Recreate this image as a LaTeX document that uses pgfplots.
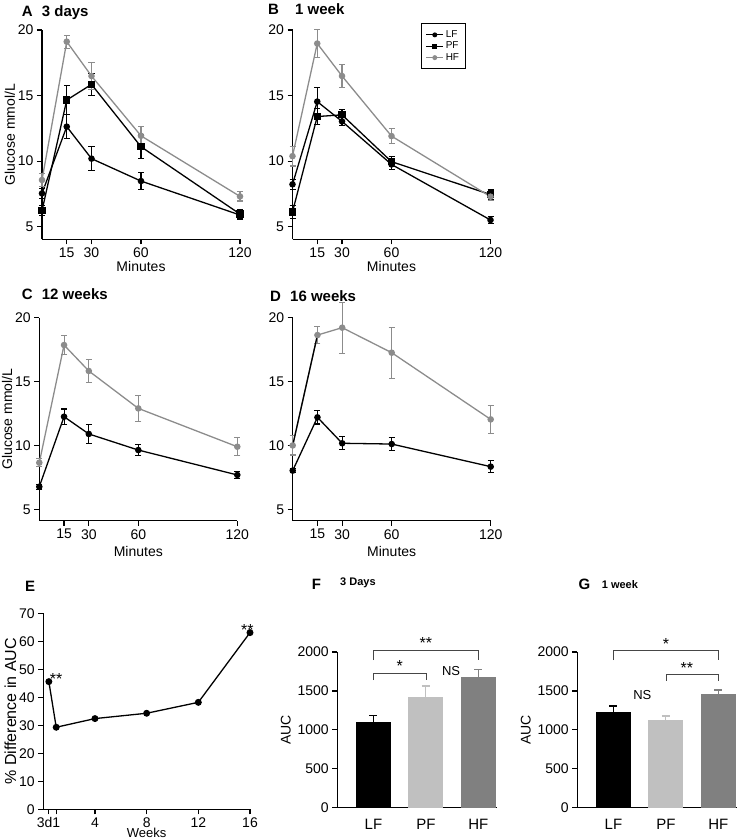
\documentclass[border=0pt]{standalone}
\usepackage{fontspec}
\setmainfont{Liberation Sans}
\usepackage{pgfplots}
\pgfplotsset{compat=1.18}
\definecolor{hfgray}{RGB}{140,140,140}
\definecolor{pfbar}{RGB}{192,192,192}
\definecolor{hfbar}{RGB}{128,128,128}
\definecolor{brk}{RGB}{70,70,70}
\newcommand{\fs}[1]{\fontsize{#1}{#1}\selectfont}

\pgfplotsset{
  base/.style={scale only axis, axis x line*=bottom, axis y line*=left,
    axis line style={-, line width=1.2pt}, tick align=outside, major tick length=5pt,
    tick style={black, line width=1.2pt}, clip=false,
    /pgf/number format/assume math mode=true, /pgf/number format/1000 sep={}},
  glc/.style={base, width=198pt, xmin=0, xmax=120, ymax=20,
    xtick={15,30,60,120}, ytick={5,10,15,20},
    tick label style={font=\fs{14}}, label style={font=\fs{14}}, xlabel=Minutes,
    ylabel shift=-4pt},
  lf/.style={color=black, mark=*, mark size=2.6pt, line width=1.3pt,
    error bars/.cd, y dir=both, y explicit, error bar style={black, line width=1.1pt},
    error mark options={black, rotate=90, mark size=3pt, line width=1.1pt}},
  pf/.style={color=black, mark=square*, mark size=3pt, line width=1.3pt,
    error bars/.cd, y dir=both, y explicit, error bar style={black, line width=1.1pt},
    error mark options={black, rotate=90, mark size=3pt, line width=1.1pt}},
  hf/.style={color=hfgray, mark=*, mark size=2.6pt, line width=1.3pt,
    error bars/.cd, y dir=both, y explicit, error bar style={hfgray, line width=1.1pt},
    error mark options={hfgray, rotate=90, mark size=3pt, line width=1.1pt}},
  auc/.style={base, width=159.4pt, height=155.7pt, xmin=-0.69, xmax=2.35, ymin=0, ymax=2000,
    xtick={0,1,2}, xticklabels={LF,PF,HF}, ytick={0,500,1000,1500,2000},
    xtick style={draw=none}, ylabel=AUC,
    x tick label style={font=\fs{15}, yshift=-3pt}, y tick label style={font=\fs{14}},
    label style={font=\fs{14}}},
  bar/.style={ybar, bar width=35pt, bar shift=0pt, fill=#1, draw=none,
    error bars/.cd, y dir=plus, y explicit, error bar style={#1, line width=1.1pt},
    error mark options={#1, rotate=90, mark size=4pt, line width=1.1pt}},
  brk/.style={brk, line width=1.2pt},
}

\begin{document}
\begin{tikzpicture}
\path[use as bounding box] (0,0) rectangle (740pt,840pt);

% titles
\node[anchor=base west, inner sep=0, font=\bfseries\fs{15}] at (21.7pt,823pt) {A};
\node[anchor=base west, inner sep=0, font=\bfseries\fs{15}] at (41.7pt,823pt) {3 days};
\node[anchor=base west, inner sep=0, font=\bfseries\fs{15}] at (268pt,825pt) {B};
\node[anchor=base west, inner sep=0, font=\bfseries\fs{15}] at (295pt,825pt) {1 week};
\node[anchor=base west, inner sep=0, font=\bfseries\fs{15}] at (21.7pt,540.7pt) {C};
\node[anchor=base west, inner sep=0, font=\bfseries\fs{15}] at (41.7pt,540.7pt) {12 weeks};
\node[anchor=base west, inner sep=0, font=\bfseries\fs{15}] at (270pt,538.3pt) {D};
\node[anchor=base west, inner sep=0, font=\bfseries\fs{15}] at (290pt,538.3pt) {16 weeks};
\node[anchor=base west, inner sep=0, font=\bfseries\fs{15}] at (25pt,248.3pt) {E};
\node[anchor=base west, inner sep=0, font=\bfseries\fs{15}] at (311.7pt,250pt) {F};
\node[anchor=base west, inner sep=0, font=\bfseries\fs{11}] at (340pt,254pt) {3 Days};
\node[anchor=base west, inner sep=0, font=\bfseries\fs{15}] at (578.3pt,250pt) {G};
\node[anchor=base west, inner sep=0, font=\bfseries\fs{11}] at (601.7pt,251pt) {1 week};

% A: 3 days
\begin{axis}[glc, at={(42pt,600.7pt)}, anchor=south west, height=209.3pt, ymin=4.04,
  ylabel={Glucose mmol/L}, xlabel style={yshift=3pt}]
\addplot[lf] coordinates {(0,7.54) +- (0,0.4) (15,12.63) +- (0,0.93) (30,10.19) +- (0,0.93) (60,8.48) +- (0,0.64) (120,5.89) +- (0,0.3)};
\addplot[pf] coordinates {(0,6.22) +- (0,0.4) (15,14.66) +- (0,1.08) (30,15.85) +- (0,0.85) (60,11.1) +- (0,0.9) (120,5.96) +- (0,0.35)};
\addplot[hf] coordinates {(0,8.56) +- (0,0.5) (15,19.11) +- (0,0.5) (30,16.49) +- (0,1.0) (60,11.93) +- (0,0.74) (120,7.31) +- (0,0.35)};
\end{axis}

% B: 1 week
\begin{axis}[glc, at={(292.5pt,600.7pt)}, anchor=south west, height=209.3pt, ymin=4.04,
  xlabel style={yshift=3pt},
  legend style={at={(0.651,1.032)}, anchor=north west, font=\fs{10}, draw=black,
    line width=0.8pt, inner xsep=4pt, inner ysep=5pt, row sep=-1pt, legend cell align=left},
  legend image post style={line width=0.9pt, mark size=2pt}]
\addplot[lf] coordinates {(0,8.23) +- (0,0.4) (15,14.54) +- (0,1.05) (30,13.03) +- (0,0.3) (60,9.75) +- (0,0.4) (120,5.51) +- (0,0.3)};
\addlegendentry{LF}
\addplot[pf] coordinates {(0,6.13) +- (0,0.5) (15,13.4) +- (0,0.6) (30,13.53) +- (0,0.4) (60,9.96) +- (0,0.4) (120,7.45) +- (0,0.35)};
\addlegendentry{PF}
\addplot[hf] coordinates {(0,10.38) +- (0,0.75) (15,18.97) +- (0,1.05) (30,16.49) +- (0,0.9) (60,11.91) +- (0,0.57) (120,7.29) +- (0,0.3)};
\addlegendentry{HF}
\end{axis}

% C: 12 weeks
\begin{axis}[glc, at={(39.3pt,319.3pt)}, anchor=south west, height=203pt, ymin=4.11,
  ylabel={Glucose mmol/L}]
\addplot[lf] coordinates {(0,6.77) +- (0,0.2) (15,12.25) +- (0,0.6) (30,10.9) +- (0,0.73) (60,9.64) +- (0,0.46) (120,7.69) +- (0,0.27)};
\addplot[hf] coordinates {(0,8.65) +- (0,0.3) (15,17.86) +- (0,0.72) (30,15.83) +- (0,0.91) (60,12.9) +- (0,1.0) (120,9.9) +- (0,0.72)};
\end{axis}

% D: 16 weeks
\begin{axis}[glc, at={(292.7pt,319.3pt)}, anchor=south west, height=203pt, ymin=4.11]
\addplot[lf] coordinates {(0,8.03) +- (0,0.15) (15,12.2) +- (0,0.52) (30,10.17) +- (0,0.52) (60,10.11) +- (0,0.5) (120,8.34) +- (0,0.45)};
\addplot[hf] coordinates {(0,10.0) +- (0,0.75) (15,18.64) +- (0,0.68) (30,19.22) +- (0,2.0) (60,17.26) +- (0,2.0) (120,12.04) +- (0,1.1)};
\addplot[black, line width=1.3pt, forget plot] coordinates {(0,10.0) (15,18.64)};
\end{axis}

% E: % difference in AUC
\begin{axis}[base, at={(43.3pt,30.7pt)}, anchor=south west, width=206.7pt, height=196pt,
  xmin=0, xmax=16, ymin=0, ymax=70, ytick={0,10,...,70},
  xtick={0.43,1,4,8,12,16}, xticklabels={\makebox[0pt][r]{3d\kern-3.5pt},1,4,8,12,16},
  tick label style={font=\fs{14}}, xlabel=Weeks, ylabel={\% Difference in AUC},
  xlabel style={font=\fs{13}, yshift=7pt}, ylabel style={font=\fs{16}}, ylabel shift=-4pt]
\addplot[black, line width=1.3pt, mark=*, mark size=2.8pt] coordinates {(0.43,45.6) (1,29.3) (4,32.4) (8,34.3) (12,38.2) (16,63.1)};
\node[font=\fs{16}] at (axis cs:1.0,46.5) {**};
\node[font=\fs{16}] at (axis cs:15.8,64) {**};
\end{axis}

% F: 3 Days AUC
\begin{axis}[auc, at={(337.3pt,32.3pt)}, anchor=south west]
\addplot[bar=black] coordinates {(0,1105) +- (0,77)};
\addplot[bar=pfbar] coordinates {(1,1426) +- (0,137)};
\addplot[bar=hfbar] coordinates {(2,1675) +- (0,102)};
\draw[brk] (axis cs:0,1897) -- (axis cs:0,2017) -- (axis cs:2,2017) -- (axis cs:2,1897);
\draw[brk] (axis cs:0,1640) -- (axis cs:0,1726) -- (axis cs:1,1726) -- (axis cs:1,1640);
\node[font=\fs{16}] at (axis cs:1,2110) {**};
\node[font=\fs{16}] at (axis cs:0.5,1820) {*};
\node[font=\fs{13}] at (axis cs:1.48,1760) {NS};
\end{axis}

% G: 1 week AUC
\begin{axis}[auc, at={(577.3pt,32.3pt)}, anchor=south west]
\addplot[bar=black] coordinates {(0,1225) +- (0,81)};
\addplot[bar=pfbar] coordinates {(1,1126) +- (0,52)};
\addplot[bar=hfbar] coordinates {(2,1460) +- (0,52)};
\draw[brk] (axis cs:0,1897) -- (axis cs:0,2017) -- (axis cs:2,2017) -- (axis cs:2,1897);
\draw[brk] (axis cs:1,1632) -- (axis cs:1,1717) -- (axis cs:2,1717) -- (axis cs:2,1632);
\node[font=\fs{16}] at (axis cs:1,2100) {*};
\node[font=\fs{16}] at (axis cs:1.4,1800) {**};
\node[font=\fs{13}] at (axis cs:0.55,1448) {NS};
\end{axis}
\end{tikzpicture}
\end{document}
